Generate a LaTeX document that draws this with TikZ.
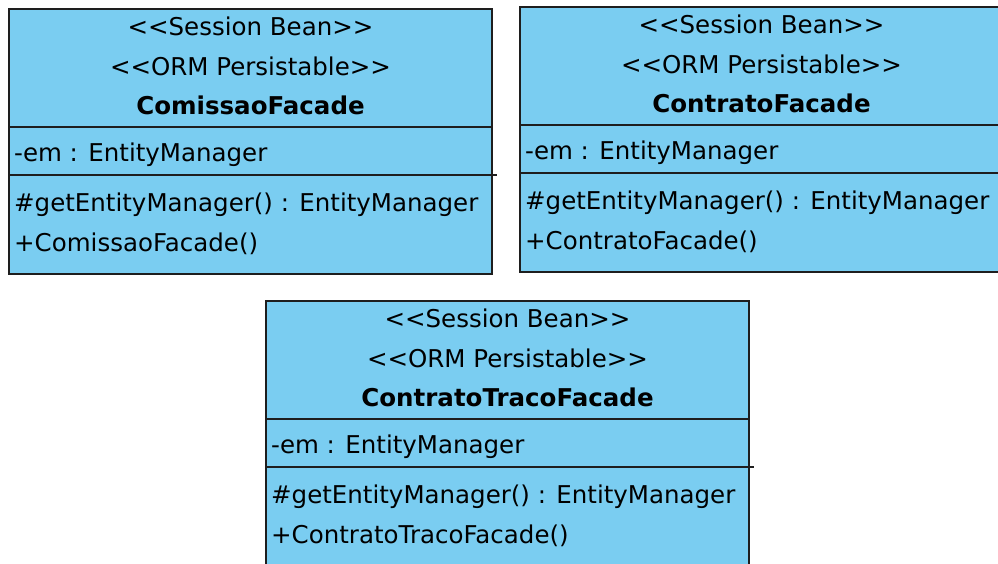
\documentclass[tikz,border=0pt]{standalone}
\usepackage{fontspec}
\usepackage{tikz}
\usetikzlibrary{positioning}
\usetikzlibrary{calc}
\newfontfamily\umlfont{DejaVu Sans}
\definecolor{classfill}{HTML}{7ACDF1}
\definecolor{classline}{HTML}{1E1E1E}
\tikzset{
    % The outline of one class, all three compartments together
    class box/.style={
        draw=classline, line width=1.5pt, fill=classfill,
        minimum width=483pt, minimum height=265pt,
        anchor=north west, inner sep=0, outer sep=0},
%
    % Centred lines of the name compartment
    class title/.style={anchor=base, inner sep=0},
%
    % Left aligned lines of the attribute and operation compartments
    class member/.style={anchor=base west, inner sep=0},
%
    % Rule between two compartments
    class rule/.style={draw=classline, line width=1.5pt}}

\begin{document}
\begin{tikzpicture}[x=1pt, y=-1pt]
\umlfont\fontsize{24.5}{29}\selectfont

% Draws a facade class named #1 with top left corner at #2, class name #3
% and constructor #4
\newcommand{\facadeclass}[4]{
\node [class box] (#1) at (#2) {};
\node [class title] (#1 bean) at ($(#1.north)+(0,26)$) {<<Session Bean>>};
\node [class title] (#1 orm) at ($(#1.north)+(0,66)$) {<<ORM Persistable>>};
\node [class title, font=\bfseries] (#1 name)
    at ($(#1.north)+(0,105)$) {#3};
\draw [class rule] ($(#1.north west)+(0,118)$) -- ($(#1.north east)+(0,118)$);
\node [class member] (#1 em)
    at ($(#1.north west)+(5,152)$) {-em : EntityManager};
\draw [class rule] ($(#1.north west)+(0,166)$) -- ($(#1.north east)+(5,166)$);
\node [class member] (#1 get)
    at ($(#1.north west)+(5,202)$) {\#getEntityManager() : EntityManager};
\node [class member] (#1 ctor) at ($(#1.north west)+(5,242)$) {+#4()};
}

\useasboundingbox (0,0) rectangle (998,563);
\clip (0,0) rectangle (998,563);

% Top row
\facadeclass{comissao}{9,9}{ComissaoFacade}{ComissaoFacade}
\facadeclass{contrato}{520,7}{ContratoFacade}{ContratoFacade}

% Bottom row
\facadeclass{traco}{266,301}{ContratoTracoFacade}{ContratoTracoFacade}

\end{tikzpicture}
\end{document}
